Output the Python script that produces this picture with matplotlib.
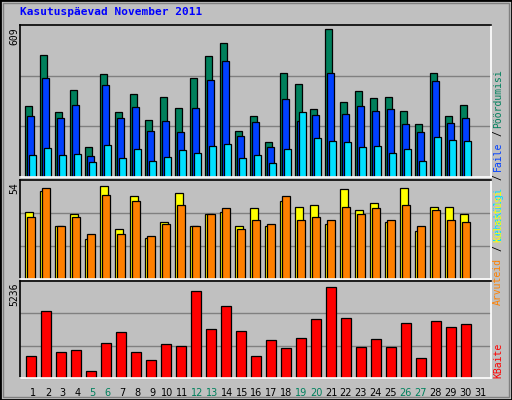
import matplotlib.pyplot as plt
import numpy as np

days = list(range(1, 32))
hits = [294, 501, 269, 360, 124, 423, 269, 340, 236, 331, 282, 406, 497, 551, 191,
        249, 145, 427, 381, 278, 609, 307, 352, 327, 331, 273, 220, 427, 253, 298]
files = [249, 406, 244, 298, 87, 377, 244, 286, 191, 232, 186, 282, 398, 476, 170,
         228, 124, 323, 232, 257, 427, 261, 294, 273, 278, 220, 186, 394, 224, 244]
pages = [91, 120, 91, 95, 62, 133, 79, 116, 66, 83, 112, 99, 128, 137, 79,
         91, 58, 116, 269, 162, 149, 145, 124, 128, 99, 116, 66, 166, 153, 149]
visits = [39, 51, 31, 38, 23, 54, 29, 48, 24, 33, 50, 31, 38, 39, 31,
          41, 31, 45, 42, 43, 32, 52, 40, 44, 33, 53, 28, 42, 42, 38]
sites = [36, 53, 31, 36, 26, 49, 26, 45, 25, 32, 43, 31, 38, 41, 29,
         34, 32, 48, 34, 36, 34, 42, 38, 41, 34, 43, 31, 40, 34, 33]
kbytes = [1266, 3855, 1496, 1611, 403, 2014, 2647, 1496, 1036, 1956, 1841, 5006, 2819, 4143, 2704,
          1266, 2186, 1726, 2301, 3395, 5236, 3452, 1784, 2244, 1784, 3165, 1151, 3280, 2934, 3107]
weekends = [5, 6, 12, 13, 19, 20, 26, 27]

W, H = 512, 400
BG = '#c0c0c0'
fig = plt.figure(figsize=(W / 100, H / 100), dpi=100, facecolor=BG)
mono = 'DejaVu Sans Mono'

# outer frame
fig.patches.append(plt.Rectangle((0, 0), 1, 1, transform=fig.transFigure, fill=False,
                                 edgecolor='black', linewidth=2))
fig.patches.append(plt.Rectangle((3 / W, 3 / H), 1 - 6 / W, 1 - 6 / H, transform=fig.transFigure,
                                 fill=False, edgecolor='#808080', linewidth=1))


def panel(y0, y1):
    ax = fig.add_axes([20 / W, 1 - y1 / H, 471 / W, (y1 - y0) / H])
    ax.set_facecolor(BG)
    ax.set_xlim(0, 471 / 15)
    ax.set_xticks([])
    ax.set_yticks([])
    for s in ['top', 'left']:
        ax.spines[s].set_color('black')
    for s in ['bottom', 'right']:
        ax.spines[s].set_color('white')
    for s in ax.spines.values():
        s.set_linewidth(1.2)
    return ax


x = np.arange(len(hits))
kw = dict(align='edge', edgecolor='black', linewidth=0.9)

ax1 = panel(25, 177)
ax1.set_ylim(0, max(hits) * 152 / 148)
for g in (1, 2):
    ax1.axhline(ax1.get_ylim()[1] * g / 3, color='#808080', linewidth=1, zorder=0)
ax1.bar(x + 0.35, hits, 0.46, color='#00805c', **kw)
ax1.bar(x + 0.48, files, 0.46, color='#0040ff', **kw)
ax1.bar(x + 0.61, pages, 0.46, color='#00e0ff', **kw)

ax2 = panel(180, 279)
ax2.set_ylim(0, max(visits) * 99 / 93)
for g in (1, 2):
    ax2.axhline(ax2.get_ylim()[1] * g / 3, color='#808080', linewidth=1, zorder=0)
ax2.bar(x + 0.35, visits, 0.53, color='#ffff00', **kw)
ax2.bar(x + 0.48, sites, 0.53, color='#ff8000', **kw)

ax3 = panel(281, 378)
ax3.set_ylim(0, max(kbytes) * 97 / 91)
for g in (1, 2):
    ax3.axhline(ax3.get_ylim()[1] * g / 3, color='#808080', linewidth=1, zorder=0)
ax3.bar(x + 0.41, kbytes, 0.66, color='#ff0000', **kw)

for d in days:
    ax3.text((d - 1) * 14.9 / 15 + 0.87, -0.1, str(d), transform=ax3.get_xaxis_transform(),
             ha='center', va='top', fontsize=7,
             color='#00805c' if d in weekends else 'black')

fig.text(20 / W, 1 - 12 / H, 'Kasutuspäevad November 2011', color='#0000ff', fontsize=8,
         fontweight='bold', family=mono, va='center')

for lab, ytop in [(str(max(hits)), 27), (str(max(visits)), 182), (str(max(kbytes)), 283)]:
    fig.text(14 / W, 1 - ytop / H, lab, rotation=90, fontsize=7, family=mono, ha='center', va='top')


def side(parts, ybottom):
    y = ybottom
    for txt, col in parts:
        fig.text(498 / W, 1 - y / H, txt, rotation=90, fontsize=7, family=mono, color=col,
                 ha='center', va='bottom')
        y -= len(txt) * 6.5 + 2


side([('Lehekülgi', '#00e0ff'), ('/', 'black'), ('Faile', '#0040ff'), ('/', 'black'),
      ('Pöördumisi', '#00805c')], 240)
side([('Arvuteid', '#ff8000'), ('/', 'black'), ('Külastusi', '#ffff00')], 305)
side([('KBaite', '#ff0000')], 378)

fig.savefig('out.png', dpi=100, facecolor=BG)
